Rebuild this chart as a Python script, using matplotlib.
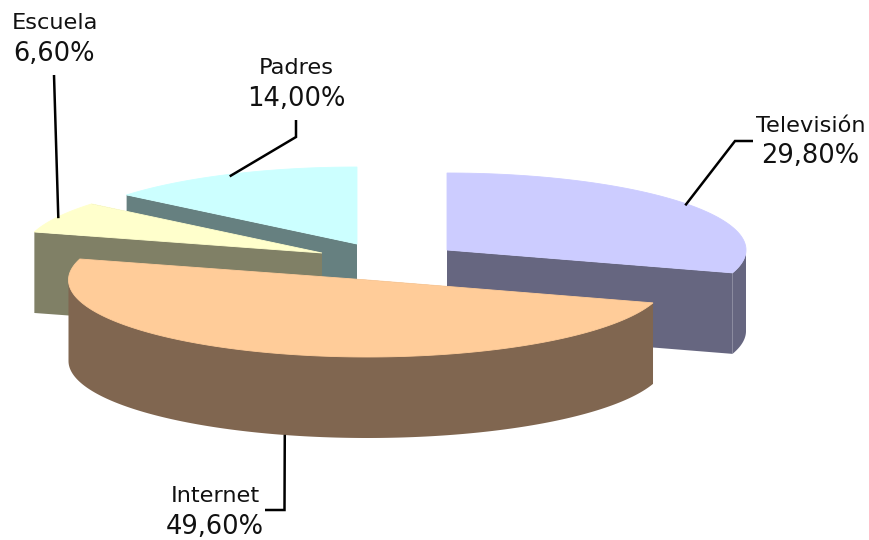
import numpy as np
import matplotlib
matplotlib.use("Agg")
import matplotlib.pyplot as plt
from matplotlib.patches import Polygon

# Data, in pie order (clockwise from 12 o'clock)
categories = ["Televisión", "Internet", "Escuela", "Padres"]
values = [29.8, 49.6, 6.6, 14.0]

# Styles
top_colors = ["#CCCCFF", "#FFCC99", "#FFFFCC", "#CCFFFF"]
side_colors = ["#666680", "#806650", "#808066", "#668080"]
apexes = [(447, 250), (367.5, 280), (322, 253), (357, 244)]   # exploded slice centres
label_xy = [(810.5, 132, 163), (215, 502, 534), (54.5, 29, 61), (296, 74, 106)]
# leader path from the label to the slice rim
leader_paths = [[(753, 141), (735, 141)], [(265, 510), (284.5, 510)], [(54, 75)], [(296, 120), (296, 137)]]
anchor_nudge = [(-2.5, 1), (2.5, 0), (1, 1), (0, 2)]
RX, RY, DEPTH = 299, 77, 81
draw_order = [3, 2, 0, 1]

fig = plt.figure(figsize=(8.7, 5.4), dpi=100)
ax = fig.add_axes([0, 0, 1, 1])
ax.set_xlim(0, 870)
ax.set_ylim(540, 0)
ax.axis("off")


def rim(apex, a0, a1, n=200):
    t = np.radians(np.linspace(a0, a1, n))
    return np.column_stack([apex[0] + RX * np.sin(t), apex[1] - RY * np.cos(t)])


edges = np.cumsum([0] + values) / sum(values) * 360
shift = np.array([0, DEPTH])
z = 1
for i in draw_order:
    apex, a0, a1 = apexes[i], edges[i], edges[i + 1]
    arc = rim(apex, a0, a1)
    segments = [np.array([apex, arc[0]]), np.array([apex, arc[-1]])]
    # only the front half of the rim can be seen
    f0, f1 = max(a0, 90), min(a1, 270)
    if f1 > f0:
        segments.append(rim(apex, f0, f1))
    for seg in segments:
        sweep = np.vstack([seg, (seg + shift)[::-1]])
        ax.add_patch(Polygon(sweep, closed=True, fc=side_colors[i], ec="none", zorder=z))
    top = np.vstack([[apex], arc])
    ax.add_patch(Polygon(top, closed=True, fc=top_colors[i], ec=top_colors[i], lw=0.6, zorder=z + 1))
    z += 2

for i, name in enumerate(categories):
    apex = apexes[i]
    mid = (edges[i] + edges[i + 1]) / 2
    anchor = rim(apex, mid, mid, 1)[0] + np.array(anchor_nudge[i])
    if 90 < mid < 270:
        anchor = anchor + shift
    path = np.array(leader_paths[i] + [tuple(anchor)])
    ax.plot(path[:, 0], path[:, 1], color="black", lw=1.8, solid_joinstyle="miter",
            solid_capstyle="butt", zorder=50)
    x, y1, y2 = label_xy[i]
    pct = f"{values[i]:.2f}%".replace(".", ",")
    ax.text(x, y1, name, ha="center", va="baseline", fontsize=16.2, family="DejaVu Sans", color="#111111", zorder=60)
    ax.text(x, y2, pct, ha="center", va="baseline", fontsize=18.5, family="DejaVu Sans", color="#111111", zorder=60)

fig.savefig("out.png", dpi=100, facecolor="white")
